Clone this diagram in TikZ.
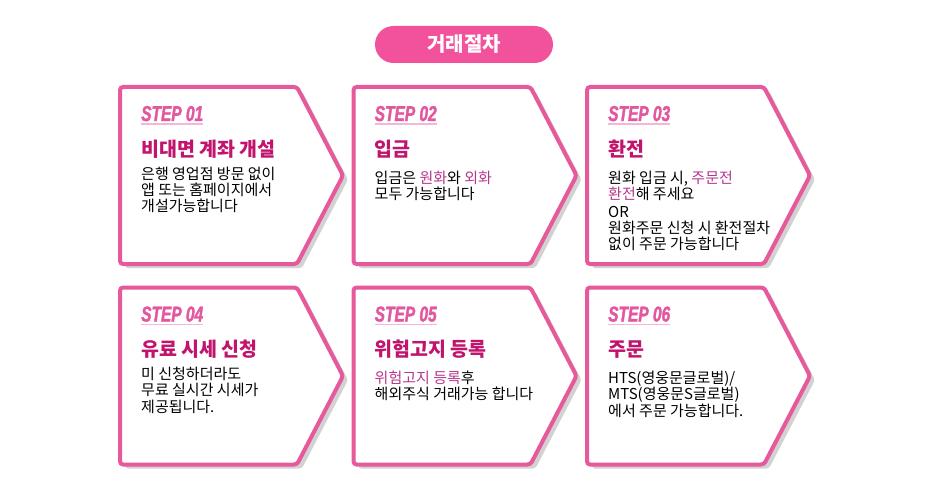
\documentclass[tikz,border=0pt]{standalone}
\usepackage{fontspec}
\setmainfont{Noto Sans CJK KR}
\newfontfamily\stepfont[FakeStretch=0.72,FakeBold=1.6]{Liberation Sans}
\usepackage{xcolor}
\usepackage{tikz}
\usetikzlibrary{positioning,shapes.symbols,shadows}
\definecolor{pinkline}{HTML}{E65A9C}
\definecolor{pillpink}{HTML}{F2529C}
\definecolor{steppink}{HTML}{E2579E}
\definecolor{stepunder}{HTML}{F4B8D6}
\definecolor{ttlred}{HTML}{C0146D}
\definecolor{hlpink}{HTML}{B7378A}
\definecolor{shade}{HTML}{D2D2D2}
\tikzset{
  stepbox/.style = {signal, signal to=east, signal pointer angle=125,
                    minimum width=223pt, minimum height=177pt, inner sep=0pt,
                    draw=pinkline, line width=4pt, rounded corners=3pt, fill=white,
                    drop shadow={shadow xshift=5pt, shadow yshift=-4pt, fill=shade, opacity=1}},
  pill/.style    = {rectangle, rounded corners=18.5pt, fill=pillpink, text=white,
                    minimum width=178pt, minimum height=37pt,
                    font=\fontsize{20}{22}\selectfont\bfseries},
  steplbl/.style = {inner sep=0pt, text=steppink,
                    font=\stepfont\fontsize{21.5}{23}\selectfont\bfseries\itshape},
  stepline/.style = {draw=stepunder, line width=1.3pt},
  ttl/.style     = {inner sep=0pt, text=ttlred, font=\fontsize{19.5}{21}\selectfont\bfseries},
  body/.style    = {inner sep=0pt, align=left, text=black, font=\fontsize{15}{16.2}\selectfont},
}
\newcommand{\hl}[1]{\textcolor{hlpink}{#1}}

\begin{document}
\begin{tikzpicture}
  \useasboundingbox (0,0) rectangle (931pt,-492pt);

  \node[pill] (hd) at (464pt,-44.5pt) {거래절차};

  % row 1
  \node[stepbox] (s1) at (208.5pt,-175.5pt) {};
  \node[stepbox] (s2) at (442pt,-175.5pt) {};
  \node[stepbox] (s3) at (675.5pt,-175.5pt) {};
  % row 2
  \node[stepbox] (s4) at (208.5pt,-376pt) {};
  \node[stepbox] (s5) at (442pt,-376pt) {};
  \node[stepbox] (s6) at (675.5pt,-376pt) {};

  % step labels
  \node[steplbl, anchor=base west] (l1) at ([shift={(23pt,54.5pt)}]s1.west) {STEP 01};
  \node[steplbl, anchor=base west] (l2) at ([shift={(23pt,54.5pt)}]s2.west) {STEP 02};
  \node[steplbl, anchor=base west] (l3) at ([shift={(23pt,54.5pt)}]s3.west) {STEP 03};
  \node[steplbl, anchor=base west] (l4) at ([shift={(23pt,54.5pt)}]s4.west) {STEP 04};
  \node[steplbl, anchor=base west] (l5) at ([shift={(23pt,54.5pt)}]s5.west) {STEP 05};
  \node[steplbl, anchor=base west] (l6) at ([shift={(23pt,54.5pt)}]s6.west) {STEP 06};
  \foreach \k in {1,...,6}
    \draw[stepline] ([yshift=-3pt]l\k.base west) -- ([yshift=-3pt]l\k.base east);

  % titles
  \node[ttl, anchor=base west] (t1) at ([shift={(23pt,19.5pt)}]s1.west) {비대면 계좌 개설};
  \node[ttl, anchor=base west] (t2) at ([shift={(23pt,19.5pt)}]s2.west) {입금};
  \node[ttl, anchor=base west] (t3) at ([shift={(23pt,19.5pt)}]s3.west) {환전};
  \node[ttl, anchor=base west] (t4) at ([shift={(23pt,19.5pt)}]s4.west) {유료 시세 신청};
  \node[ttl, anchor=base west] (t5) at ([shift={(23pt,19.5pt)}]s5.west) {위험고지 등록};
  \node[ttl, anchor=base west] (t6) at ([shift={(23pt,19.5pt)}]s6.west) {주문};

  % descriptions
  \node[body, anchor=north west] (b1) at ([shift={(23pt,9pt)}]s1.west)
    {은행 영업점 방문 없이\\앱 또는 홈페이지에서\\개설가능합니다};
  \node[body, anchor=north west] (b2) at ([shift={(23pt,5pt)}]s2.west)
    {입금은 \hl{원화}와 \hl{외화}\\모두 가능합니다};
  \node[body, anchor=north west] (b3) at ([shift={(23pt,5pt)}]s3.west)
    {원화 입금 시, \hl{주문전}\\\hl{환전}해 주세요\\[2pt]OR\\원화주문 신청 시 환전절차\\없이 주문 가능합니다};
  \node[body, anchor=north west] (b4) at ([shift={(23pt,9pt)}]s4.west)
    {미 신청하더라도\\무료 실시간 시세가\\제공됩니다.};
  \node[body, anchor=north west] (b5) at ([shift={(23pt,5pt)}]s5.west)
    {\hl{위험고지 등록}후\\해외주식 거래가능 합니다};
  \node[body, anchor=north west] (b6) at ([shift={(23pt,5pt)}]s6.west)
    {HTS(영웅문글로벌)/\\MTS(영웅문S글로벌)\\에서 주문 가능합니다.};
\end{tikzpicture}
\end{document}
